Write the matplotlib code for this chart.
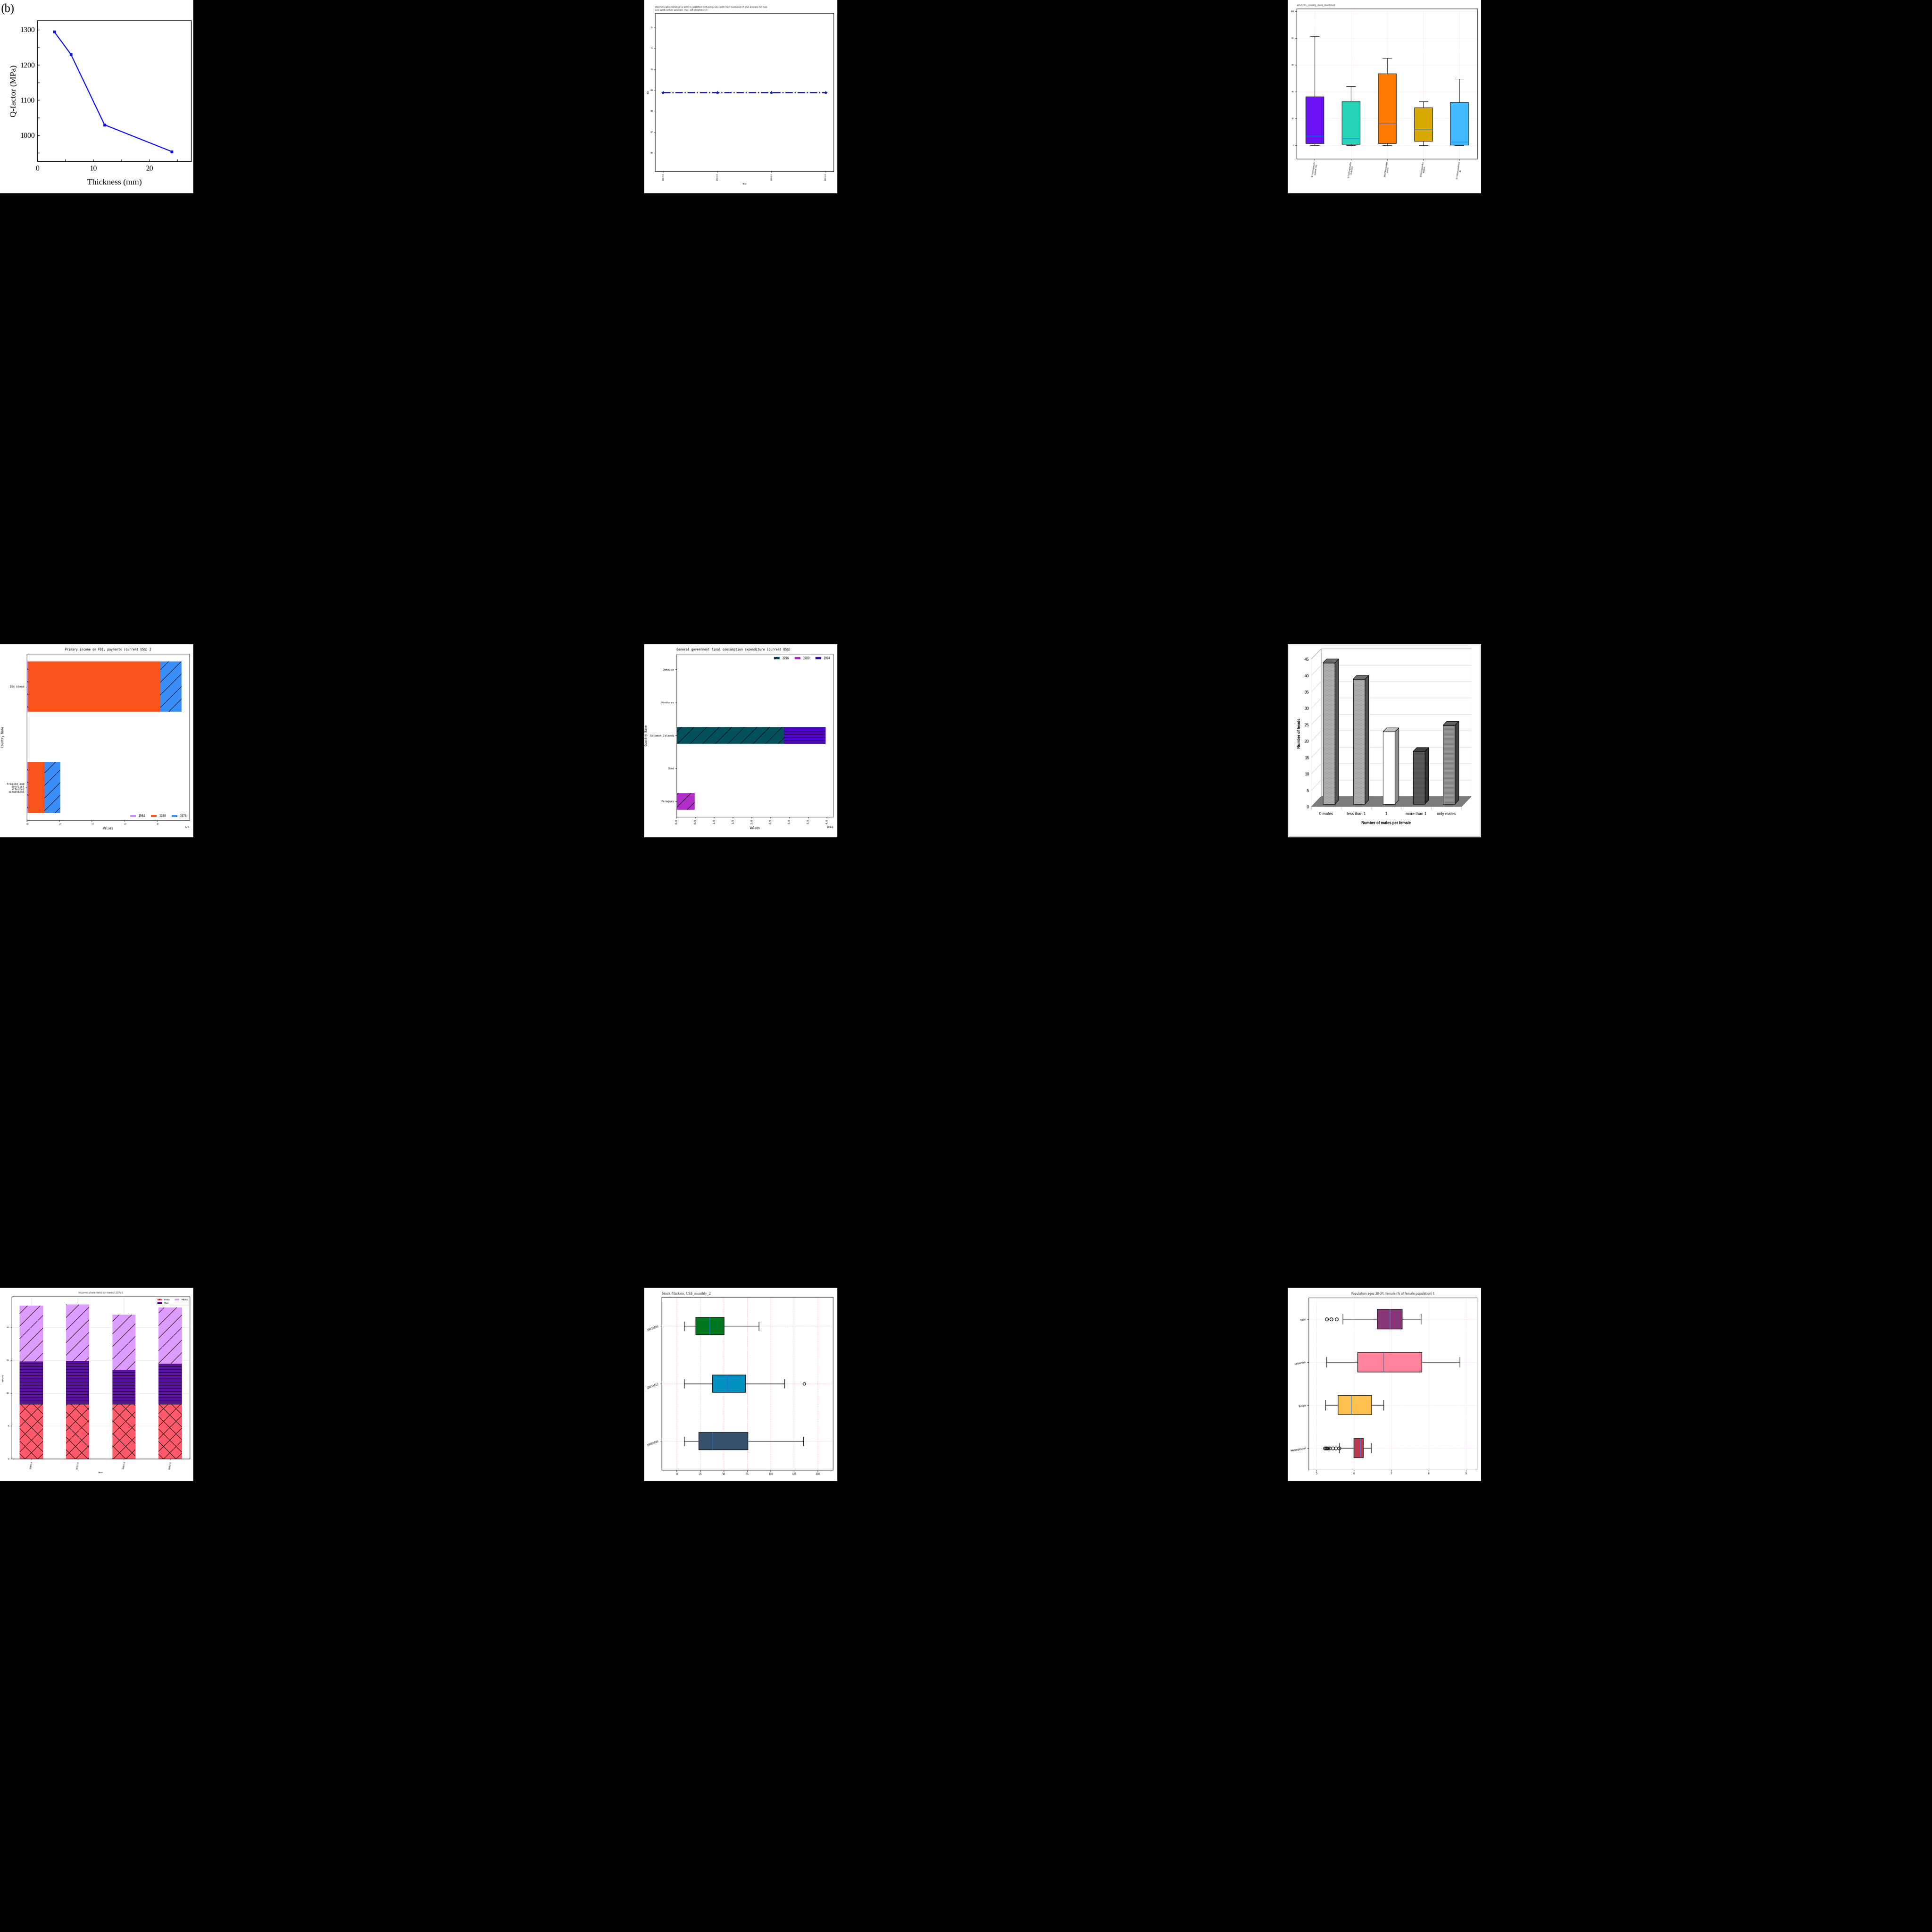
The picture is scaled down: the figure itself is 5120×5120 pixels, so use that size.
import textwrap
import numpy as np
import matplotlib
matplotlib.use('Agg')
import matplotlib.pyplot as plt
from matplotlib.patches import Rectangle, Polygon

plt.rcParams['hatch.linewidth'] = 0.8

NARROW = ['DejaVu Sans']
SERIF = ['Liberation Serif', 'DejaVu Serif']
MONO = ['DejaVu Sans Mono']
SANS = ['Liberation Sans', 'DejaVu Sans']

# ---- panel 1: Q-factor vs thickness
thickness = [3, 6, 12, 24]
qfactor = [1295, 1230, 1030, 954]

# ---- panel 2: BDI line
years_bdi = ['1967.0', '2016.0', '1999.0', '2010.0']
bdi = [68.9, 68.9, 68.9, 68.9]

# ---- panel 3: county boxplots
counties = ['51790VirginiaStaunton city', '51710VirginiaNorfolk city',
            '28067MississippiJones', '17091IllinoisKankakee', '1113AlabamaRussell']
county_whislo = [0, 0, 0, 0, 0]
county_q1 = [1.4, 0.9, 1.5, 3.1, 0.2]
county_med = [7.1, 5.2, 16.5, 12.1, 2.6]
county_q3 = [36.3, 32.6, 53.5, 28.1, 32.2]
county_whishi = [81.4, 43.9, 65.1, 32.7, 49.6]
county_colors = ['#6a12f2', '#25d3b9', '#ff7a00', '#d8a900', '#42b8ff']

# ---- panel 4: FDI payments
fdi_countries = ['Fragile and\nconflict\naffected\nsituations', 'IDA blend']
fdi_1984 = [0.05e9, 0.05e9]
fdi_1980 = [0.50e9, 4.05e9]
fdi_1976 = [0.48e9, 0.655e9]

# ---- panel 5: government expenditure
gov_countries = ['Paraguay', 'Chad', 'Solomon Islands', 'Honduras', 'Jamaica']
gov_1996 = [0, 0.0001e11, 2.862e11, 0.003e11, 0.005e11]
gov_1989 = [0.484e11, 0, 0, 0.003e11, 0.005e11]
gov_1994 = [0, 0, 1.105e11, 0.003e11, 0.005e11]

# ---- panel 6: 3D bar chart (number of heads)
male_cats = ['0 males', 'less than 1', '1', 'more than 1', 'only males']
heads = [43, 38, 22, 16, 24]

# ---- panel 7: income share
share_years = ['1985.0', '2013.0', '1981.0', '1982.0']
india = [8.3, 8.3, 8.3, 8.3]
mali = [6.55, 6.6, 5.3, 6.2]
malta = [8.48, 8.62, 8.33, 8.56]

# ---- panel 8: stock markets
stock_labels = ['1998M09', '2003M12', '1993M09']
stock_whislo = [8.0, 8.0, 8.0]
stock_q1 = [23.6, 37.9, 20.3]
stock_med = [38.4, 54.2, 35.3]
stock_q3 = [75.8, 73.5, 50.7]
stock_whishi = [134.7, 114.6, 87.3]
stock_fliers = [[], [135.6], []]
stock_colors = ['#37506a', '#0090bf', '#00761f']

# ---- panel 9: population ages 30-34
pop_countries = ['Madagascar', 'Tonga', 'Lebanon', 'Italy']
pop_whislo = [5.62, 5.25, 5.28, 5.71]
pop_q1 = [6.0, 5.58, 6.10, 6.63]
pop_med = [6.19, 5.93, 6.80, 6.97]
pop_q3 = [6.26, 6.48, 7.825, 7.30]
pop_whishi = [6.47, 6.80, 8.84, 7.80]
pop_fliers = [[5.23, 5.256, 5.28, 5.31, 5.35, 5.44, 5.515, 5.606], [], [], [5.28, 5.40, 5.54]]
pop_colors = ['#b83b4f', '#ffc250', '#ff8499', '#873577']

W = 5120.0
CELL = W / 3
SIDE = 512.0

fig = plt.figure(figsize=(51.2, 51.2), dpi=100, facecolor='black')


# white background of one small picture
def fundo(col, row):
    r = Rectangle((col * CELL / W, 1 - (row * CELL + SIDE) / W), SIDE / W, SIDE / W,
                  transform=fig.transFigure, facecolor='white', edgecolor='none', zorder=-1)
    fig.patches.append(r)


# axes from pixel box inside one picture
def eixos(col, row, l, t, r, b):
    ox, oy = col * CELL, row * CELL
    return fig.add_axes([(ox + l) / W, 1 - (oy + b) / W, (r - l) / W, (b - t) / W])


def texto(col, row, x, y, s, **kw):
    return fig.text((col * CELL + x) / W, 1 - (row * CELL + y) / W, s, **kw)


def fonte(ax, family, size):
    for lab in ax.get_xticklabels() + ax.get_yticklabels():
        lab.set_family(family)
        lab.set_fontsize(size)


for c in range(3):
    for r in range(3):
        fundo(c, r)

# ================= panel 1
ax = eixos(0, 0, 99, 55, 507, 428)
ax.plot(thickness, qfactor, color='#1010f2', lw=2, marker='s', ms=5)
ax.set_xlim(0, 27.5)
ax.set_ylim(925.7, 1325.7)
ax.set_xticks([0, 10, 20])
ax.set_xticks([5, 15, 25], minor=True)
ax.set_yticks([1000, 1100, 1200, 1300])
ax.set_yticks([950, 1050, 1150, 1250], minor=True)
ax.tick_params(which='both', direction='in', length=4, width=1)
ax.tick_params(axis='x', pad=8)
ax.tick_params(axis='y', pad=5)
fonte(ax, SERIF, 14)
for s in ax.spines.values():
    s.set_linewidth(1.2)
ax.set_xlabel('Thickness (mm)', family=SERIF, fontsize=16, labelpad=14)
ax.set_ylabel('Q-factor (MPa)', family=SERIF, fontsize=16, labelpad=4)
texto(0, 0, 3, 25, '(b)', family=SERIF, fontsize=22, va='center')

# ================= panel 2
ax = eixos(1, 0, 29.3, 35, 502.7, 454.3)
ax.plot(years_bdi, bdi, color='#0a1fb8', ls='-.', lw=2.2, marker='*', ms=6)
ax.tick_params(labelsize=4.5, length=2, width=0.6, pad=2)
ax.tick_params(axis='x', rotation=90)
fonte(ax, NARROW, 4)
ax.set_title('Women who believe a wife is justified refusing sex with her husband if she knows he has\n'
             'sex with other women (%): Q5 (highest) t', loc='left', family=NARROW, fontsize=4.8,
             color='#333333', pad=5)
ax.set_xlabel('Year', family=NARROW, fontsize=4)
ax.set_ylabel('BDI', family=NARROW, fontsize=4, labelpad=2)
for s in ax.spines.values():
    s.set_color('#333333')
    s.set_linewidth(1)

# ================= panel 3
ax = eixos(2, 0, 23, 23.3, 502, 421)
stats = []
for i in range(len(counties)):
    stats.append(dict(whislo=county_whislo[i], q1=county_q1[i], med=county_med[i],
                      q3=county_q3[i], whishi=county_whishi[i], fliers=[]))
bp = ax.bxp(stats, widths=0.5, patch_artist=True,
            boxprops=dict(edgecolor='#222222', linewidth=1),
            medianprops=dict(color='#1f7fff', linewidth=1),
            whiskerprops=dict(color='black', linewidth=0.8),
            capprops=dict(color='black', linewidth=0.8))
for patch, c in zip(bp['boxes'], county_colors):
    patch.set_facecolor(c)
ax.set_ylim(-10.1, 101.9)
ax.set_yticks([0, 20, 40, 60, 80, 100])
ax.set_xticks(range(1, 6), [textwrap.fill(n, 15) for n in counties])
ax.tick_params(length=3, width=0.6, pad=2)
ax.tick_params(axis='x', rotation=82)
fonte(ax, SERIF, 4.5)
ax.grid(True, color='violet', alpha=0.3, lw=0.6, ls='--')
ax.set_title('acs2015_county_data_modified', loc='left', family=SERIF, fontsize=5.8,
             color='#333333', pad=5)
for s in ax.spines.values():
    s.set_color('#333333')

# ================= panel 4
ax = eixos(0, 1, 70.7, 26, 501.7, 467.3)
pos = np.arange(len(fdi_countries))
left = np.zeros(len(fdi_countries))
for vals, cor, hat, lab in [(fdi_1984, '#cc8cfa', '\\', '1984'), (fdi_1980, '#f9541a', '', '1980'),
                            (fdi_1976, '#3a8ef7', '/', '1976')]:
    ax.barh(pos, vals, left=left, height=0.5, color=cor, hatch=hat, edgecolor='black', lw=0, label=lab)
    left += np.array(vals)
ax.set_yticks(pos, fdi_countries)
ax.tick_params(length=2.5, width=0.8, pad=2)
ax.tick_params(axis='x', rotation=-80)
fonte(ax, MONO, 5)
ax.xaxis.get_offset_text().set_fontsize(5)
ax.legend(loc='lower right', ncol=3, frameon=False, prop=dict(family=MONO, size=5.5),
          handlelength=2, columnspacing=2)
ax.set_title('Primary income on FDI, payments (current US$) 2', family=MONO, fontsize=5.8, pad=6)
ax.set_xlabel('Values', family=MONO, fontsize=5.5)
ax.set_ylabel('Country Name', family=MONO, fontsize=5.5)
for s in ax.spines.values():
    s.set_color('#444444')

# ================= panel 5
ax = eixos(1, 1, 86, 26, 501.3, 458.7)
pos = np.arange(len(gov_countries))
left = np.zeros(len(gov_countries))
for vals, cor, hat, lab in [(gov_1996, '#02505a', '/', '1996'), (gov_1989, '#b12ec9', '/', '1989'),
                            (gov_1994, '#5200cf', '--', '1994')]:
    ax.barh(pos, vals, left=left, height=0.5, color=cor, hatch=hat, edgecolor='black', lw=0, label=lab)
    left += np.array(vals)
ax.set_yticks(pos, gov_countries)
ax.tick_params(length=2.5, width=0.8, pad=2)
ax.tick_params(axis='x', rotation=90)
fonte(ax, MONO, 5)
ax.xaxis.get_offset_text().set_fontsize(5)
ax.legend(loc='upper right', ncol=3, frameon=False, prop=dict(family=MONO, size=5.5),
          handlelength=2, columnspacing=2)
ax.set_title('General government final consumption expenditure (current US$)', loc='left',
             family=MONO, fontsize=5.8, pad=6)
ax.set_xlabel('Values', family=MONO, fontsize=5.5)
ax.set_ylabel('Country Name', family=MONO, fontsize=5.5)
for s in ax.spines.values():
    s.set_color('#444444')

# ================= panel 6 (oblique 3D bars)
ax = eixos(2, 1, 61.3, 12.7, 485.7, 431.7)
dx, dy = 0.335, 3.18          # floor depth in data units
d0, t = 0.28, 0.375           # bar position and thickness as depth fraction
ax.set_xlim(-0.5, 4.5 + dx)
ax.set_ylim(0, 45 + dy)
ax.set_facecolor('none')
for s in ax.spines.values():
    s.set_visible(False)
ax.add_patch(Polygon([(-0.5, 0), (-0.5 + dx, dy), (-0.5 + dx, 45 + dy), (-0.5, 45)],
                     closed=True, fc='white', ec='#9a9a9a', lw=0.8, zorder=0))
ax.add_patch(Rectangle((-0.5 + dx, dy), 5, 45, fc='white', ec='#9a9a9a', lw=0.8, zorder=0))
for k in range(5, 45, 5):
    ax.plot([-0.5, -0.5 + dx, 4.5 + dx], [k, k + dy, k + dy], color='#d4d4d4', lw=0.8, zorder=0.5)
ax.add_patch(Polygon([(-0.5, 0), (4.5, 0), (4.5 + dx, dy), (-0.5 + dx, dy)],
                     closed=True, fc='#7c7c7c', ec='#666666', lw=0.6, zorder=1))
x0 = np.arange(len(heads)) - 0.2 + d0 * dx
base = d0 * dy
front = ['#b4b4b4', '#b4b4b4', '#ffffff', '#4c4c4c', '#7a7a7a']
tex = ['#8a8a8a', '#8a8a8a', '#ffffff', '#6c6c6c', '#b0b0b0']
hats = ['.....', '.....', '', '-----', '-----']
tops = ['#6e6e6e', '#6e6e6e', '#c4c4c4', '#404040', '#5e5e5e']
sides = ['#505050', '#505050', '#8e8e8e', '#2e2e2e', '#404040']
bars = ax.bar(x0, heads, width=0.4, bottom=base, align='edge', color=front,
              edgecolor=tex, lw=0, zorder=2)
for b, h in zip(bars, hats):
    b.set_hatch(h)
ax.bar(x0, heads, width=0.4, bottom=base, align='edge', fill=False, edgecolor='black',
       lw=0.8, zorder=3)
for i, h in enumerate(heads):
    xa, xb = x0[i], x0[i] + 0.4
    top = [(xa, base + h), (xb, base + h), (xb + t * dx, base + h + t * dy), (xa + t * dx, base + h + t * dy)]
    side = [(xb, base), (xb + t * dx, base + t * dy), (xb + t * dx, base + h + t * dy), (xb, base + h)]
    ax.add_patch(Polygon(top, closed=True, fc=tops[i], ec='black', lw=0.8, zorder=3))
    ax.add_patch(Polygon(side, closed=True, fc=sides[i], ec='black', lw=0.8, zorder=3))
ax.set_xticks(range(len(male_cats)), male_cats)
ax.set_xticks(np.arange(-0.5, 5), minor=True)
ax.tick_params(axis='x', which='major', length=0, pad=10)
ax.tick_params(axis='x', which='minor', length=5, color='#aaaaaa')
ax.set_yticks(range(0, 50, 5))
ax.tick_params(axis='y', length=0, pad=4)
fonte(ax, SANS, 7.5)
for lab in ax.get_yticklabels():
    lab.set_fontsize(8)
texto(2, 1, 259.7, 474, 'Number of males per female', family=SANS, fontsize=7,
      weight='bold', ha='center', va='center')
texto(2, 1, 29.7, 236.7, 'Number of heads', family=SANS, fontsize=7, weight='bold',
      rotation=90, ha='center', va='center')
fig.patches.append(Rectangle(((2 * CELL + 1.5) / W, 1 - (1 * CELL + 510) / W), 507 / W, 508 / W,
                             transform=fig.transFigure, fill=False, edgecolor='#a0a0a0', lw=0.8))

# ================= panel 7
ax = eixos(0, 2, 30.7, 23, 503.3, 453)
x = np.arange(len(share_years))
bottom = np.zeros(len(share_years))
for vals, cor, hat, lab in [(india, '#ff5a6b', 'x', 'India'), (mali, '#5b11a0', '--', 'Mali'),
                            (malta, '#dd9cff', '/', 'Malta')]:
    ax.bar(x, vals, bottom=bottom, width=0.5, color=cor, hatch=hat, edgecolor='black', lw=0,
           label=lab, zorder=2)
    bottom += np.array(vals)
ax.set_xticks(x, share_years)
ax.tick_params(length=2.5, width=0.6, pad=2)
ax.tick_params(axis='x', rotation=80)
fonte(ax, NARROW, 4.5)
ax.grid(True, color='#dddddd', lw=0.6)
ax.set_axisbelow(True)
ax.legend(loc='upper right', ncol=2, prop=dict(family=NARROW, size=4.5), framealpha=1,
          edgecolor='#dddddd', fancybox=False)
ax.set_title('Income share held by lowest 20% t', family=NARROW, fontsize=4.8, pad=6, color='#333333')
ax.set_xlabel('Year', family=NARROW, fontsize=4.5)
ax.set_ylabel('Values', family=NARROW, fontsize=4.5)

# ================= panel 8
ax = eixos(1, 2, 47.3, 24.7, 501.3, 482.3)
stats = []
for i in range(len(stock_labels)):
    stats.append(dict(whislo=stock_whislo[i], q1=stock_q1[i], med=stock_med[i],
                      q3=stock_q3[i], whishi=stock_whishi[i], fliers=stock_fliers[i]))
bp = ax.bxp(stats, widths=0.3, patch_artist=True, orientation='horizontal',
            boxprops=dict(edgecolor='#1a1a1a', linewidth=1.2),
            medianprops=dict(color='#1e6fd6', linewidth=1.2),
            whiskerprops=dict(color='black', linewidth=1),
            capprops=dict(color='black', linewidth=1),
            flierprops=dict(marker='o', markerfacecolor='none', markeredgecolor='black', markersize=5))
for patch, c in zip(bp['boxes'], stock_colors):
    patch.set_facecolor(c)
ax.set_xlim(-15.8, 166.6)
ax.set_yticks(range(1, 4), stock_labels)
ax.tick_params(length=3, width=0.6, pad=2)
ax.tick_params(axis='y', rotation=20)
fonte(ax, SERIF, 6)
ax.grid(True, color='#ff8a8a', alpha=0.6, lw=0.6, ls='--')
ax.set_title('Stock Markets, US$_monthly_2', loc='left', family=SERIF, fontsize=7.2, pad=5,
             color='#333333')
for s in ax.spines.values():
    s.set_color('#777777')
    s.set_linewidth(1.5)

# ================= panel 9
ax = eixos(2, 2, 55, 25.7, 500.7, 481.3)
stats = []
for i in range(len(pop_countries)):
    stats.append(dict(whislo=pop_whislo[i], q1=pop_q1[i], med=pop_med[i],
                      q3=pop_q3[i], whishi=pop_whishi[i], fliers=pop_fliers[i]))
bp = ax.bxp(stats, widths=0.45, patch_artist=True, orientation='horizontal',
            boxprops=dict(edgecolor='#1a1a1a', linewidth=1.1),
            medianprops=dict(color='#3a80e0', linewidth=1.2),
            whiskerprops=dict(color='#333333', linewidth=1.2),
            capprops=dict(color='#333333', linewidth=1.2),
            flierprops=dict(marker='o', markerfacecolor='none', markeredgecolor='black', markersize=6))
for patch, c in zip(bp['boxes'], pop_colors):
    patch.set_facecolor(c)
ax.set_xlim(4.795, 9.296)
ax.set_yticks(range(1, 5), pop_countries)
ax.tick_params(length=3, width=0.6, pad=2)
ax.tick_params(axis='y', rotation=10)
fonte(ax, NARROW, 5)
ax.grid(True, color='violet', alpha=0.35, lw=0.6, ls='--')
ax.set_title('Population ages 30-34, female (% of female population) t', family=NARROW,
             fontsize=5.5, pad=6, color='#333333')
for s in ax.spines.values():
    s.set_color('#333333')

fig.savefig('out.png', dpi=100, facecolor='black')
